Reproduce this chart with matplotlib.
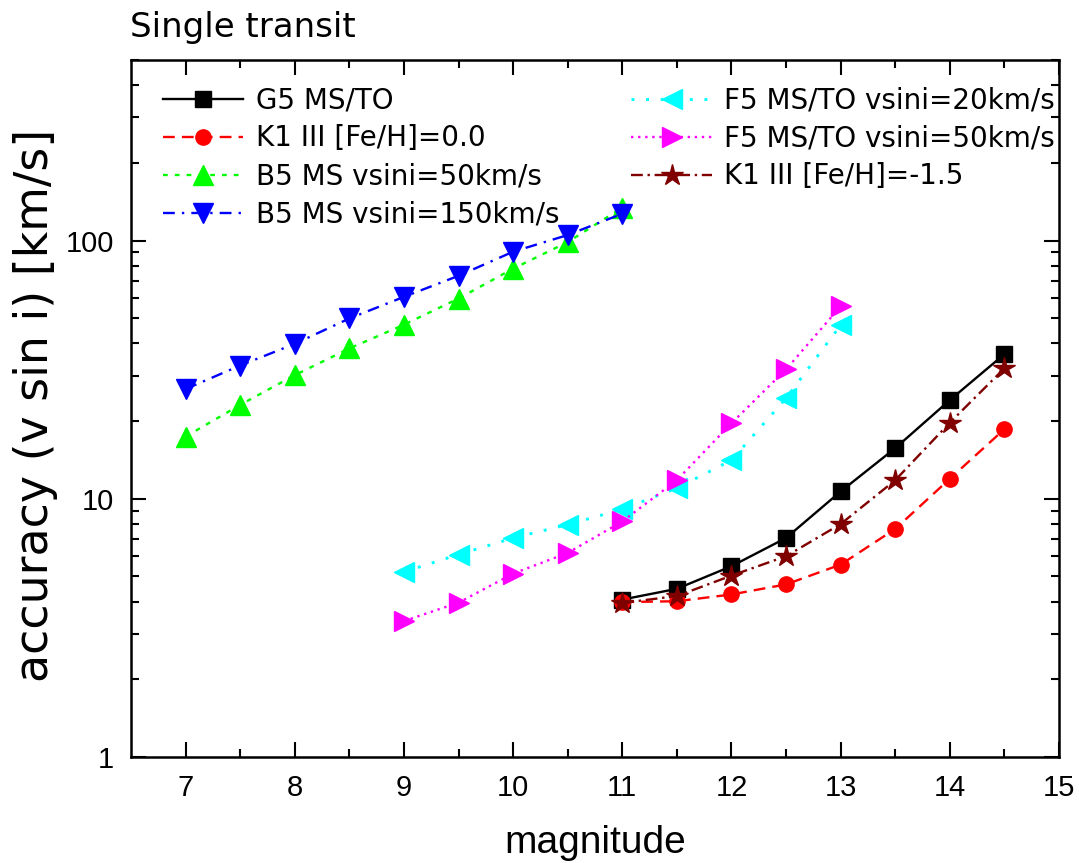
import matplotlib
matplotlib.use("Agg")
import matplotlib.pyplot as plt
from matplotlib.ticker import FixedLocator, LogLocator, NullFormatter, FixedFormatter

# ---- data ----
mag_b5 = [7.0, 7.5, 8.0, 8.5, 9.0, 9.5, 10.0, 10.5, 11.0]
b5_50 = [17.4, 23.1, 30.1, 38.2, 47.2, 59.6, 77.8, 98.6, 134.0]
b5_150 = [26.6, 32.8, 39.8, 49.9, 60.5, 73.0, 90.5, 105.0, 127.0]

mag_f5 = [9.0, 9.5, 10.0, 10.5, 11.0, 11.5, 12.0, 12.5, 13.0]
f5_20 = [5.21, 6.08, 7.05, 7.94, 9.1, 11.0, 14.1, 24.5, 47.0]
f5_50 = [3.36, 3.96, 5.13, 6.17, 8.17, 11.8, 19.6, 31.7, 55.6]

mag_gk = [11.0, 11.5, 12.0, 12.5, 13.0, 13.5, 14.0, 14.5]
g5 = [4.07, 4.48, 5.48, 7.05, 10.67, 15.7, 24.1, 36.3]
k1_00 = [3.98, 4.01, 4.26, 4.66, 5.56, 7.64, 11.95, 18.6]
k1_m15 = [3.95, 4.2, 5.04, 5.99, 7.98, 11.8, 19.7, 32.0]

labels = ["G5 MS/TO", "K1 III [Fe/H]=0.0", "B5 MS vsini=50km/s", "B5 MS vsini=150km/s",
          "F5 MS/TO vsini=20km/s", "F5 MS/TO vsini=50km/s", "K1 III [Fe/H]=-1.5"]
xticks = [7, 8, 9, 10, 11, 12, 13, 14, 15]
yticks = [1, 10, 100]
ytick_labels = ["1", "10", "100"]

fig = plt.figure(figsize=(10.79, 8.63), dpi=100)
ax = fig.add_axes([131/1079, 1-757/863, (1059-131)/1079, (757-60)/863])

lw = 1.7
h = []
h += ax.plot(mag_gk, g5, color="black", ls="-", lw=lw, marker="s", ms=11, mec="black", label=labels[0])
h += ax.plot(mag_gk, k1_00, color="#ff0000", ls=(0, (5, 3)), lw=lw, marker="o", ms=11, mec="#ff0000", label=labels[1])
h += ax.plot(mag_b5, b5_50, color="#00ff00", ls=(0, (2, 3)), lw=lw, marker="^", ms=14.5, mec="#00ff00", label=labels[2])
h += ax.plot(mag_b5, b5_150, color="#0000ff", ls=(0, (5, 3, 1, 3)), lw=lw, marker="v", ms=14.5, mec="#0000ff", label=labels[3])
h += ax.plot(mag_f5, f5_20, color="#00ffff", ls=(0, (1, 4)), lw=lw+0.4, marker="<", ms=14.5, mec="#00ffff", label=labels[4])
h += ax.plot(mag_f5, f5_50, color="#ff00ff", ls=(0, (1, 2)), lw=lw, marker=">", ms=14.5, mec="#ff00ff", label=labels[5])
h += ax.plot(mag_gk, k1_m15, color="#800000", ls=(0, (5, 2, 1, 2)), lw=lw, marker="*", ms=16, mec="#800000", label=labels[6])

ax.set_yscale("log")
ax.set_xlim(6.5, 15)
ax.set_ylim(1, 500)

ax.xaxis.set_major_locator(FixedLocator(xticks))
ax.xaxis.set_minor_locator(FixedLocator([x + 0.5 for x in xticks[:-1]]))
ax.yaxis.set_major_locator(FixedLocator(yticks))
ax.yaxis.set_major_formatter(FixedFormatter(ytick_labels))
ax.yaxis.set_minor_locator(LogLocator(base=10, subs=range(2, 10)))
ax.yaxis.set_minor_formatter(NullFormatter())

tickfont = "Liberation Sans"
ax.tick_params(which="both", direction="in", top=True, right=True, width=1.5, color="black")
ax.tick_params(which="major", length=10.5, pad=12, labelsize=21)
ax.tick_params(which="minor", length=6)
for lab in ax.get_xticklabels() + ax.get_yticklabels():
    lab.set_fontfamily(tickfont)
for s in ax.spines.values():
    s.set_linewidth(1.8)

ax.set_xlabel("magnitude", fontsize=28, family=tickfont, va="center")
ax.xaxis.set_label_coords(0.5, -0.124)
ax.set_ylabel("accuracy (v sin i) [km/s]", fontsize=33, family="DejaVu Sans", va="center")
ax.yaxis.set_label_coords(-0.103, 0.505)

fig.text(130/1079, 1-37/863, "Single transit", fontsize=24.5, family="DejaVu Sans", ha="left", va="baseline")

leg = ax.legend(handles=h, ncol=2, loc="upper left", bbox_to_anchor=(0.034, 0.962),
                frameon=False, fontsize=20, handlelength=2.9, handletextpad=0.45,
                labelspacing=0.36, columnspacing=2.6, borderpad=0, borderaxespad=0)
for t in leg.get_texts():
    t.set_family("DejaVu Sans")

fig.savefig("out.png", dpi=100)
